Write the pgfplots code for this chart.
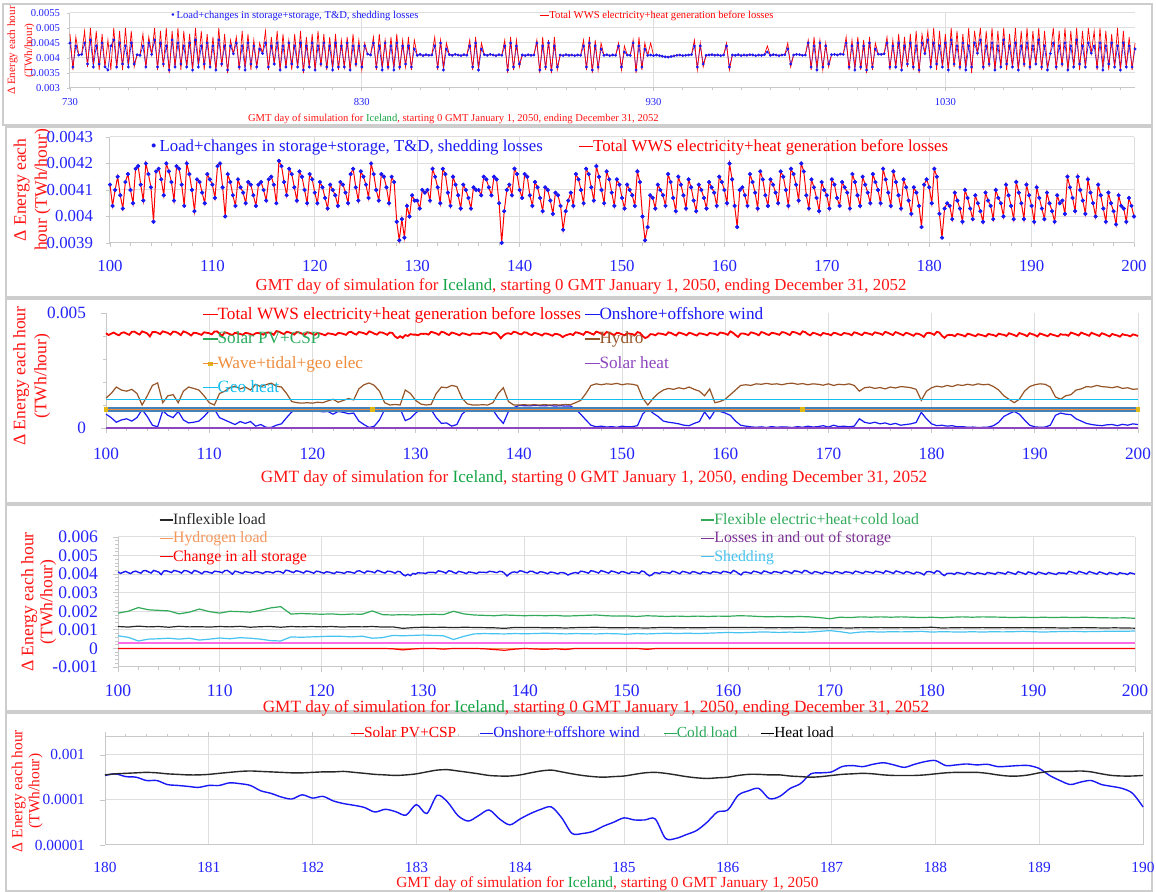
\documentclass[border=0pt]{standalone}
\usepackage{pgfplots}
\pgfplotsset{compat=1.18}
\usepackage{pgfplotstable}
\usepackage{fontspec}
\setmainfont{Liberation Serif}

\definecolor{tickblue}{RGB}{35,35,250}
\definecolor{labred}{RGB}{255,20,20}
\definecolor{icegreen}{RGB}{20,165,70}
\definecolor{lineblue}{RGB}{25,25,245}
\definecolor{hydrobrown}{RGB}{150,85,40}
\definecolor{geocyan}{RGB}{20,190,240}
\definecolor{bandblue}{RGB}{70,130,185}
\definecolor{waveorange}{RGB}{240,140,60}
\definecolor{waveyellow}{RGB}{225,185,20}
\definecolor{heatpurple}{RGB}{140,70,190}
\definecolor{pvgreen}{RGB}{40,170,90}
\definecolor{flexgreen}{RGB}{50,170,90}
\definecolor{inflexblack}{RGB}{40,40,40}
\definecolor{shedcyan}{RGB}{70,195,240}
\definecolor{losspink}{RGB}{255,105,230}
\definecolor{losspurple}{RGB}{125,50,150}
\definecolor{htwoorange}{RGB}{245,150,90}
\definecolor{gridgray}{RGB}{222,222,222}
\definecolor{axisgray}{RGB}{200,200,200}
\definecolor{framegray}{RGB}{205,205,205}

\newcommand\fA{\fontsize{5.3}{6.2}\selectfont}
\newcommand\fAy{\fontsize{5.6}{8.5}\selectfont}
\newcommand\fB{\fontsize{8.4}{10}\selectfont}
\newcommand\fBy{\fontsize{8.8}{10.5}\selectfont}
\newcommand\fC{\fontsize{8.6}{10}\selectfont}
\newcommand\fD{\fontsize{8.8}{10.5}\selectfont}
\newcommand\fDl{\fontsize{7.9}{9.5}\selectfont}
\newcommand\fDy{\fontsize{8.8}{9.5}\selectfont}
\newcommand\fE{\fontsize{7.7}{9}\selectfont}
\newcommand\fEy{\fontsize{7.7}{8.6}\selectfont}

\newcommand\gmtlabel{GMT day of simulation for \textcolor{icegreen}{Iceland}, starting 0 GMT January 1, 2050}
% legend entry: a short line key followed by the series name, all in the series colour
\newcommand\leg[2]{\textcolor{#1}{\rule[0.25em]{0.85em}{0.07em}#2}}

\pgfplotsset{
  panel/.style={
    scale only axis, anchor=south west, clip=false,
    axis lines*=left,
    axis line style={draw=axisgray, line width=0.5pt},
    tick style={draw=axisgray, line width=0.4pt},
    major tick length=2.5pt, minor tick length=1.5pt,
    tick align=outside,
    grid style={draw=gridgray, line width=0.5pt},
    tick label style={text=tickblue},
    /pgf/number format/assume math mode=true,
    /pgf/number format/1000 sep={},
    scaled y ticks=false,
    yticklabel style={/pgf/number format/fixed, /pgf/number format/precision=5},
    xlabel style={text=labred, anchor=center},
    ylabel style={text=labred, align=center, anchor=center},
    legend cell align=left,
    legend style={draw=none, fill=none, inner sep=0pt, outer sep=0pt,
      nodes={inner sep=0.5pt}},
    legend image code/.code={},
  },
}

% hourly totals, third simulated year (day, generation, load)
\pgfplotstableread{
d g l
730 0.0048 0.0045
731 0.0036 0.0037
732 0.0047 0.0044
733 0.00410 0.00410
734 0.00412 0.00412
735 0.0049 0.0045
736 0.0037 0.0038
737 0.0050 0.0046
738 0.0038 0.0037
739 0.0049 0.0044
740 0.0036 0.0038
741 0.0048 0.0045
742 0.0037 0.0037
743 0.0046 0.0036
744 0.0036 0.0044
745 0.0050 0.0046
746 0.0037 0.0037
747 0.0049 0.0045
748 0.0036 0.0038
749 0.0050 0.0044
750 0.0038 0.0037
751 0.0049 0.0045
752 0.0037 0.0038
753 0.00411 0.00411
754 0.00409 0.00409
755 0.0048 0.0044
756 0.0037 0.0037
757 0.0047 0.0045
758 0.00412 0.00412
759 0.0050 0.0046
760 0.0036 0.0037
761 0.0049 0.0045
762 0.0037 0.0038
763 0.0050 0.0044
764 0.0035 0.0036
765 0.0049 0.0046
766 0.0037 0.0037
767 0.0050 0.0045
768 0.0036 0.0038
769 0.0049 0.0044
770 0.0037 0.0037
771 0.0048 0.0045
772 0.0036 0.0036
773 0.0050 0.0046
774 0.0038 0.0037
775 0.0049 0.0044
776 0.0036 0.0038
777 0.0048 0.0045
778 0.0037 0.0037
779 0.0047 0.0044
780 0.0036 0.0036
781 0.0050 0.0046
782 0.0037 0.0038
783 0.0048 0.0044
784 0.0035 0.0036
785 0.0046 0.0044
786 0.00414 0.00414
787 0.0047 0.0045
788 0.0036 0.0037
789 0.0049 0.0044
790 0.0037 0.0036
791 0.0048 0.0045
792 0.0036 0.0038
793 0.0046 0.0044
794 0.0037 0.0037
795 0.0045 0.0043
796 0.00415 0.00415
797 0.0049 0.0045
798 0.0036 0.0037
799 0.0047 0.0044
800 0.0038 0.0038
801 0.0049 0.0045
802 0.0036 0.0036
803 0.0048 0.0044
804 0.0037 0.0037
805 0.0046 0.0045
806 0.0036 0.0038
807 0.0048 0.0044
808 0.0037 0.0037
809 0.0049 0.0045
810 0.0035 0.0036
811 0.0047 0.0044
812 0.0037 0.0037
813 0.0048 0.0045
814 0.0036 0.0036
815 0.0049 0.0044
816 0.0037 0.0038
817 0.0048 0.0045
818 0.0036 0.0037
819 0.0047 0.0044
820 0.0037 0.0036
821 0.0048 0.0045
822 0.0036 0.0037
823 0.0046 0.0044
824 0.0037 0.0037
825 0.0047 0.0045
826 0.0036 0.0036
827 0.0048 0.0044
828 0.0037 0.0038
829 0.0046 0.0044
830 0.0036 0.0037
831 0.0045 0.0044
832 0.00413 0.00413
833 0.00410 0.00410
834 0.0047 0.0045
835 0.0036 0.0037
836 0.0048 0.0044
837 0.0037 0.0036
838 0.0046 0.0045
839 0.0036 0.0037
840 0.0047 0.0044
841 0.0037 0.0036
842 0.0048 0.0045
843 0.0036 0.0037
844 0.0046 0.0044
845 0.0037 0.0038
846 0.0047 0.0044
847 0.0036 0.0037
848 0.0046 0.0043
849 0.00409 0.00409
850 0.00412 0.00412
851 0.00408 0.00408
852 0.00411 0.00411
853 0.00409 0.00409
854 0.00410 0.00410
855 0.0047 0.0044
856 0.0036 0.0037
857 0.0046 0.0045
858 0.0037 0.0036
859 0.0045 0.0043
860 0.00411 0.00411
861 0.00409 0.00409
862 0.00412 0.00412
863 0.00410 0.00410
864 0.00408 0.00408
865 0.00411 0.00411
866 0.00409 0.00409
867 0.0046 0.0044
868 0.0036 0.0037
869 0.0047 0.0045
870 0.0037 0.0036
871 0.0045 0.0043
872 0.00411 0.00411
873 0.00409 0.00409
874 0.00412 0.00412
875 0.00410 0.00410
876 0.00408 0.00408
877 0.00411 0.00411
878 0.00409 0.00409
879 0.0046 0.0044
880 0.0035 0.0036
881 0.0047 0.0045
882 0.0036 0.0037
883 0.0046 0.0044
884 0.0037 0.0038
885 0.00410 0.00410
886 0.00408 0.00408
887 0.00411 0.00411
888 0.00409 0.00409
889 0.00410 0.00410
890 0.0046 0.0045
891 0.0035 0.0036
892 0.0047 0.0044
893 0.0036 0.0037
894 0.0046 0.0045
895 0.0035 0.0036
896 0.0047 0.0044
897 0.0036 0.0037
898 0.00410 0.00410
899 0.00408 0.00408
900 0.00411 0.00411
901 0.00409 0.00409
902 0.00410 0.00410
903 0.00408 0.00408
904 0.00410 0.00410
905 0.00409 0.00409
906 0.0046 0.0044
907 0.0036 0.0037
908 0.0047 0.0045
909 0.0035 0.0036
910 0.0046 0.0044
911 0.0036 0.0037
912 0.0045 0.0043
913 0.00409 0.00409
914 0.00411 0.00411
915 0.00408 0.00408
916 0.00410 0.00410
917 0.00409 0.00409
918 0.0045 0.0044
919 0.0036 0.0037
920 0.0044 0.0042
921 0.00410 0.00410
922 0.00409 0.00409
923 0.0046 0.0045
924 0.0035 0.0036
925 0.0047 0.0044
926 0.0036 0.0037
927 0.0045 0.0043
928 0.00409 0.00409
929 0.0045 0.0041
930 0.00408 0.00408
931 0.00410 0.00410
932 0.00408 0.00408
933 0.00406 0.00406
934 0.00404 0.00404
935 0.00403 0.00403
936 0.00405 0.00405
937 0.00407 0.00407
938 0.00409 0.00409
939 0.00410 0.00410
940 0.00408 0.00408
941 0.00409 0.00409
942 0.00410 0.00410
943 0.00411 0.00411
944 0.0046 0.0044
945 0.0036 0.0037
946 0.0045 0.0044
947 0.0037 0.0038
948 0.00409 0.00409
949 0.00410 0.00410
950 0.00411 0.00411
951 0.00409 0.00409
952 0.00410 0.00410
953 0.00408 0.00408
954 0.00410 0.00410
955 0.0045 0.0044
956 0.0036 0.0037
957 0.00410 0.00410
958 0.00409 0.00409
959 0.00411 0.00411
960 0.00408 0.00408
961 0.00410 0.00410
962 0.00409 0.00409
963 0.00411 0.00411
964 0.00410 0.00410
965 0.00408 0.00408
966 0.00410 0.00410
967 0.00409 0.00409
968 0.00411 0.00411
969 0.0044 0.0042
970 0.00409 0.00409
971 0.00411 0.00411
972 0.00410 0.00410
973 0.00408 0.00408
974 0.00410 0.00410
975 0.00411 0.00411
976 0.0045 0.0043
977 0.0037 0.0038
978 0.00410 0.00410
979 0.00412 0.00412
980 0.00411 0.00411
981 0.00409 0.00409
982 0.00410 0.00410
983 0.0046 0.0045
984 0.0036 0.0037
985 0.0047 0.0044
986 0.0037 0.0036
987 0.0046 0.0045
988 0.0036 0.0037
989 0.0045 0.0044
990 0.0037 0.0038
991 0.00411 0.00411
992 0.00412 0.00412
993 0.00410 0.00410
994 0.00413 0.00413
995 0.00412 0.00412
996 0.0047 0.0045
997 0.0036 0.0037
998 0.0046 0.0044
999 0.0037 0.0036
1000 0.0047 0.0045
1001 0.0036 0.0037
1002 0.0046 0.0044
1003 0.0035 0.0036
1004 0.0047 0.0045
1005 0.0036 0.0037
1006 0.0045 0.0043
1007 0.00413 0.00413
1008 0.00412 0.00412
1009 0.00414 0.00414
1010 0.0047 0.0045
1011 0.0036 0.0037
1012 0.0046 0.0044
1013 0.0037 0.0037
1014 0.0048 0.0045
1015 0.0036 0.0036
1016 0.0047 0.0044
1017 0.0037 0.0038
1018 0.0048 0.0045
1019 0.0036 0.0037
1020 0.0049 0.0044
1021 0.0035 0.0036
1022 0.0048 0.0045
1023 0.00415 0.00415
1024 0.0049 0.0046
1025 0.0037 0.0037
1026 0.0050 0.0045
1027 0.0036 0.0038
1028 0.0049 0.0044
1029 0.0037 0.0037
1030 0.0048 0.0045
1031 0.0036 0.0036
1032 0.0050 0.0046
1033 0.0037 0.0038
1034 0.0049 0.0044
1035 0.0036 0.0037
1036 0.0048 0.0045
1037 0.0037 0.0036
1038 0.0050 0.0044
1039 0.0035 0.0037
1040 0.0049 0.0045
1041 0.00416 0.00416
1042 0.0050 0.0046
1043 0.0036 0.0037
1044 0.0049 0.0044
1045 0.0037 0.0038
1046 0.0050 0.0045
1047 0.0036 0.0036
1048 0.0049 0.0044
1049 0.0037 0.0037
1050 0.0050 0.0046
1051 0.0036 0.0038
1052 0.0048 0.0044
1053 0.0037 0.0037
1054 0.0050 0.0045
1055 0.0036 0.0036
1056 0.0049 0.0044
1057 0.0037 0.0038
1058 0.0050 0.0045
1059 0.0036 0.0037
1060 0.0049 0.0044
1061 0.0038 0.0038
1062 0.0050 0.0046
1063 0.0036 0.0037
1064 0.0049 0.0044
1065 0.0037 0.0036
1066 0.00415 0.00415
1067 0.0050 0.0045
1068 0.0036 0.0037
1069 0.0049 0.0044
1070 0.0037 0.0038
1071 0.0050 0.0045
1072 0.0036 0.0036
1073 0.0049 0.0044
1074 0.0037 0.0037
1075 0.0050 0.0046
1076 0.0036 0.0038
1077 0.0049 0.0044
1078 0.0037 0.0037
1079 0.0050 0.0045
1080 0.00416 0.00416
1081 0.0049 0.0044
1082 0.0036 0.0037
1083 0.0050 0.0045
1084 0.0037 0.0036
1085 0.0049 0.0044
1086 0.0036 0.0038
1087 0.0048 0.0045
1088 0.0037 0.0037
1089 0.0050 0.0044
1090 0.0036 0.0036
1091 0.0049 0.0045
1092 0.0037 0.0037
1093 0.0047 0.0044
1094 0.0036 0.0037
1095 0.0045 0.0043
}\tA

% total generation = load, days 100-200, every 6 h
\pgfplotstableread{
d v
100 0.00412
100.25 0.00404
100.5 0.00410
100.75 0.00415
101 0.00408
101.25 0.00403
101.5 0.00413
101.75 0.00416
102 0.00410
102.25 0.00405
102.5 0.00418
102.75 0.00419
103 0.00412
103.25 0.00406
103.5 0.00420
103.75 0.00416
104 0.00411
104.25 0.00398
104.5 0.00417
104.75 0.00418
105 0.00414
105.25 0.00408
105.5 0.00420
105.75 0.00417
106 0.00413
106.25 0.00406
106.5 0.00419
106.75 0.00418
107 0.00412
107.25 0.00404
107.5 0.00420
107.75 0.00416
108 0.00410
108.25 0.00402
108.5 0.00414
108.75 0.00413
109 0.00409
109.25 0.00405
109.5 0.00416
109.75 0.00414
110 0.00412
110.25 0.00407
110.5 0.00419
110.75 0.00420
111 0.00411
111.25 0.00400
111.5 0.00416
111.75 0.00413
112 0.00408
112.25 0.00404
112.5 0.00414
112.75 0.00411
113 0.00409
113.25 0.00405
113.5 0.00413
113.75 0.00412
114 0.00408
114.25 0.00404
114.5 0.00412
114.75 0.00413
115 0.00410
115.25 0.00406
115.5 0.00414
115.75 0.00415
116 0.00412
116.25 0.00405
116.5 0.00421
116.75 0.00419
117 0.00413
117.25 0.00408
117.5 0.00418
117.75 0.00416
118 0.00411
118.25 0.00406
118.5 0.00417
118.75 0.00415
119 0.00410
119.25 0.00405
119.5 0.00416
119.75 0.00414
120 0.00409
120.25 0.00405
120.5 0.00413
120.75 0.00411
121 0.00407
121.25 0.00403
121.5 0.00412
121.75 0.00410
122 0.00408
122.25 0.00404
122.5 0.00413
122.75 0.00412
123 0.00409
123.25 0.00405
123.5 0.00416
123.75 0.00418
124 0.00411
124.25 0.00406
124.5 0.00417
124.75 0.00415
125 0.00412
125.25 0.00407
125.5 0.00420
125.75 0.00416
126 0.00410
126.25 0.00406
126.5 0.00416
126.75 0.00415
127 0.00411
127.25 0.00405
127.5 0.00415
127.75 0.00413
128 0.00398
128.25 0.00391
128.5 0.00399
128.75 0.00392
129 0.00404
129.25 0.00400
129.5 0.00408
129.75 0.00406
130 0.00406
130.25 0.00403
130.5 0.00410
130.75 0.00409
131 0.00410
131.25 0.00406
131.5 0.00418
131.75 0.00415
132 0.00411
132.25 0.00405
132.5 0.00418
132.75 0.00416
133 0.00409
133.25 0.00404
133.5 0.00415
133.75 0.00412
134 0.00408
134.25 0.00403
134.5 0.00412
134.75 0.00410
135 0.00407
135.25 0.00403
135.5 0.00411
135.75 0.00410
136 0.00410
136.25 0.00408
136.5 0.00415
136.75 0.00414
137 0.00411
137.25 0.00408
137.5 0.00415
137.75 0.00414
138 0.00405
138.25 0.00390
138.5 0.00402
138.75 0.00410
139 0.00412
139.25 0.00408
139.5 0.00418
139.75 0.00416
140 0.00410
140.25 0.00407
140.5 0.00416
140.75 0.00415
141 0.00408
141.25 0.00404
141.5 0.00413
141.75 0.00411
142 0.00407
142.25 0.00402
142.5 0.00411
142.75 0.00410
143 0.00406
143.25 0.00401
143.5 0.00409
143.75 0.00408
144 0.00404
144.25 0.00395
144.5 0.00402
144.75 0.00406
145 0.00409
145.25 0.00404
145.5 0.00416
145.75 0.00414
146 0.00410
146.25 0.00405
146.5 0.00418
146.75 0.00416
147 0.00411
147.25 0.00406
147.5 0.00419
147.75 0.00415
148 0.00410
148.25 0.00405
148.5 0.00417
148.75 0.00414
149 0.00409
149.25 0.00404
149.5 0.00414
149.75 0.00412
150 0.00407
150.25 0.00403
150.5 0.00412
150.75 0.00410
151 0.00408
151.25 0.00404
151.5 0.00417
151.75 0.00413
152 0.00400
152.25 0.00391
152.5 0.00396
152.75 0.00408
153 0.00407
153.25 0.00403
153.5 0.00412
153.75 0.00410
154 0.00408
154.25 0.00404
154.5 0.00416
154.75 0.00413
155 0.00407
155.25 0.00402
155.5 0.00415
155.75 0.00412
156 0.00408
156.25 0.00403
156.5 0.00414
156.75 0.00411
157 0.00406
157.25 0.00402
157.5 0.00412
157.75 0.00410
158 0.00407
158.25 0.00403
158.5 0.00413
158.75 0.00411
159 0.00409
159.25 0.00404
159.5 0.00415
159.75 0.00413
160 0.00410
160.25 0.00405
160.5 0.00420
160.75 0.00414
161 0.00404
161.25 0.00396
161.5 0.00410
161.75 0.00411
162 0.00408
162.25 0.00404
162.5 0.00416
162.75 0.00413
163 0.00409
163.25 0.00403
163.5 0.00417
163.75 0.00414
164 0.00408
164.25 0.00404
164.5 0.00414
164.75 0.00412
165 0.00409
165.25 0.00405
165.5 0.00417
165.75 0.00415
166 0.00410
166.25 0.00404
166.5 0.00418
166.75 0.00416
167 0.00412
167.25 0.00406
167.5 0.00420
167.75 0.00417
168 0.00408
168.25 0.00403
168.5 0.00414
168.75 0.00411
169 0.00407
169.25 0.00402
169.5 0.00413
169.75 0.00410
170 0.00408
170.25 0.00403
170.5 0.00414
170.75 0.00412
171 0.00407
171.25 0.00404
171.5 0.00413
171.75 0.00411
172 0.00409
172.25 0.00403
172.5 0.00416
172.75 0.00413
173 0.00408
173.25 0.00404
173.5 0.00415
173.75 0.00412
174 0.00409
174.25 0.00405
174.5 0.00416
174.75 0.00413
175 0.00410
175.25 0.00405
175.5 0.00418
175.75 0.00414
176 0.00409
176.25 0.00404
176.5 0.00417
176.75 0.00413
177 0.00408
177.25 0.00403
177.5 0.00414
177.75 0.00411
178 0.00406
178.25 0.00401
178.5 0.00411
178.75 0.00409
179 0.00404
179.25 0.00396
179.5 0.00412
179.75 0.00414
180 0.00411
180.25 0.00405
180.5 0.00418
180.75 0.00415
181 0.00401
181.25 0.00392
181.5 0.00403
181.75 0.00405
182 0.00404
182.25 0.00399
182.5 0.00409
182.75 0.00406
183 0.00403
183.25 0.00398
183.5 0.00410
183.75 0.00407
184 0.00403
184.25 0.00399
184.5 0.00408
184.75 0.00405
185 0.00402
185.25 0.00398
185.5 0.00409
185.75 0.00406
186 0.00404
186.25 0.00399
186.5 0.00410
186.75 0.00407
187 0.00405
187.25 0.00400
187.5 0.00412
187.75 0.00408
188 0.00404
188.25 0.00399
188.5 0.00413
188.75 0.00409
189 0.00405
189.25 0.00399
189.5 0.00412
189.75 0.00408
190 0.00404
190.25 0.00398
190.5 0.00411
190.75 0.00407
191 0.00403
191.25 0.00399
191.5 0.00409
191.75 0.00405
192 0.00402
192.25 0.00398
192.5 0.00408
192.75 0.00405
193 0.00406
193.25 0.00401
193.5 0.00415
193.75 0.00411
194 0.00407
194.25 0.00402
194.5 0.00415
194.75 0.00410
195 0.00406
195.25 0.00401
195.5 0.00414
195.75 0.00409
196 0.00405
196.25 0.00400
196.5 0.00412
196.75 0.00408
197 0.00403
197.25 0.00398
197.5 0.00409
197.75 0.00405
198 0.00402
198.25 0.00397
198.5 0.00408
198.75 0.00404
199 0.00403
199.25 0.00398
199.5 0.00407
199.75 0.00404
200 0.00400
}\tB

% hydro and wind output, every 12 h
\pgfplotstableread{
d h w
100 0.00130 0.00060
100.5 0.00150 0.00045
101 0.00178 0.00025
101.5 0.00165 0.00035
102 0.00160 0.00040
102.5 0.00168 0.00030
103 0.00150 0.00045
103.5 0.00100 0.00080
104 0.00140 0.00050
104.5 0.00185 0.00012
105 0.00196 0.00005
105.5 0.00110 0.00075
106 0.00140 0.00055
106.5 0.00145 0.00045
107 0.00110 0.00072
107.5 0.00160 0.00035
108 0.00178 0.00022
108.5 0.00172 0.00025
109 0.00165 0.00030
109.5 0.00140 0.00050
110 0.00110 0.00075
110.5 0.00100 0.00082
111 0.00150 0.00045
111.5 0.00160 0.00035
112 0.00175 0.00025
112.5 0.00182 0.00015
113 0.00170 0.00028
113.5 0.00178 0.00020
114 0.00165 0.00028
114.5 0.00190 0.00008
115 0.00180 0.00015
115.5 0.00188 0.00003
116 0.00195 0.00002
116.5 0.00182 0.00012
117 0.00178 0.00018
117.5 0.00150 0.00045
118 0.00115 0.00070
118.5 0.00110 0.00078
119 0.00108 0.00078
119.5 0.00110 0.00075
120 0.00108 0.00072
120.5 0.00112 0.00075
121 0.00110 0.00070
121.5 0.00118 0.00072
122 0.00125 0.00060
122.5 0.00112 0.00072
123 0.00120 0.00068
123.5 0.00128 0.00062
124 0.00122 0.00065
124.5 0.00170 0.00030
125 0.00188 0.00015
125.5 0.00196 0.00002
126 0.00185 0.00008
126.5 0.00160 0.00035
127 0.00110 0.00080
127.5 0.00100 0.00085
128 0.00102 0.00082
128.5 0.00100 0.00084
129 0.00165 0.00032
129.5 0.00150 0.00042
130 0.00120 0.00065
130.5 0.00104 0.00080
131 0.00100 0.00082
131.5 0.00102 0.00080
132 0.00150 0.00045
132.5 0.00178 0.00020
133 0.00175 0.00022
133.5 0.00185 0.00008
134 0.00180 0.00015
134.5 0.00130 0.00060
135 0.00105 0.00080
135.5 0.00100 0.00085
136 0.00100 0.00088
136.5 0.00101 0.00086
137 0.00100 0.00085
137.5 0.00110 0.00078
138 0.00150 0.00045
138.5 0.00175 0.00020
139 0.00115 0.00072
139.5 0.00100 0.00088
140 0.00100 0.00098
140.5 0.00101 0.00097
141 0.00100 0.00096
141.5 0.00101 0.00098
142 0.00100 0.00097
142.5 0.00101 0.00096
143 0.00100 0.00098
143.5 0.00101 0.00095
144 0.00100 0.00097
144.5 0.00102 0.00095
145 0.00101 0.00096
145.5 0.00110 0.00082
146 0.00120 0.00060
146.5 0.00150 0.00035
147 0.00185 0.00012
147.5 0.00192 0.00005
148 0.00188 0.00008
148.5 0.00192 0.00004
149 0.00190 0.00006
149.5 0.00194 0.00003
150 0.00188 0.00008
150.5 0.00192 0.00005
151 0.00190 0.00006
151.5 0.00185 0.00010
152 0.00130 0.00060
152.5 0.00100 0.00082
153 0.00128 0.00065
153.5 0.00150 0.00050
154 0.00165 0.00030
154.5 0.00172 0.00025
155 0.00168 0.00022
155.5 0.00175 0.00018
156 0.00170 0.00012
156.5 0.00178 0.00010
157 0.00168 0.00020
157.5 0.00160 0.00028
158 0.00140 0.00070
158.5 0.00170 0.00040
159 0.00110 0.00075
159.5 0.00115 0.00072
160 0.00125 0.00065
160.5 0.00145 0.00055
161 0.00165 0.00030
161.5 0.00185 0.00012
162 0.00188 0.00008
162.5 0.00185 0.00005
163 0.00192 0.00003
163.5 0.00190 0.00005
164 0.00194 0.00002
164.5 0.00190 0.00006
165 0.00192 0.00003
165.5 0.00188 0.00005
166 0.00193 0.00004
166.5 0.00195 0.00002
167 0.00190 0.00006
167.5 0.00193 0.00003
168 0.00188 0.00008
168.5 0.00192 0.00004
169 0.00190 0.00006
169.5 0.00186 0.00010
170 0.00192 0.00004
170.5 0.00185 0.00012
171 0.00190 0.00006
171.5 0.00188 0.00008
172 0.00192 0.00005
172.5 0.00185 0.00008
173 0.00160 0.00040
173.5 0.00175 0.00025
174 0.00178 0.00020
174.5 0.00172 0.00025
175 0.00176 0.00018
175.5 0.00170 0.00022
176 0.00178 0.00015
176.5 0.00174 0.00020
177 0.00180 0.00012
177.5 0.00178 0.00015
178 0.00175 0.00018
178.5 0.00168 0.00024
179 0.00120 0.00068
179.5 0.00160 0.00040
180 0.00175 0.00018
180.5 0.00182 0.00010
181 0.00178 0.00012
181.5 0.00185 0.00008
182 0.00180 0.00010
182.5 0.00188 0.00005
183 0.00185 0.00006
183.5 0.00190 0.00003
184 0.00186 0.00004
184.5 0.00192 0.00002
185 0.00188 0.00003
185.5 0.00190 0.00004
186 0.00180 0.00010
186.5 0.00165 0.00025
187 0.00140 0.00050
187.5 0.00125 0.00062
188 0.00110 0.00072
188.5 0.00125 0.00060
189 0.00160 0.00035
189.5 0.00180 0.00012
190 0.00188 0.00005
190.5 0.00192 0.00003
191 0.00190 0.00004
191.5 0.00178 0.00012
192 0.00135 0.00055
192.5 0.00125 0.00065
193 0.00140 0.00060
193.5 0.00145 0.00058
194 0.00165 0.00040
194.5 0.00170 0.00030
195 0.00180 0.00020
195.5 0.00178 0.00015
196 0.00185 0.00012
196.5 0.00180 0.00010
197 0.00178 0.00014
197.5 0.00175 0.00015
198 0.00180 0.00010
198.5 0.00172 0.00016
199 0.00175 0.00012
199.5 0.00168 0.00018
200 0.00170 0.00015
}\tC

% daily loads: flexible, inflexible, shedding, change in storage
\pgfplotstableread{
d f i s c
100 0.00190 0.00118 0.00068 0
101 0.00200 0.00115 0.00060 0
102 0.00220 0.00120 0.00040 0
103 0.00208 0.00116 0.00050 0
104 0.00205 0.00118 0.00052 0
105 0.00202 0.00114 0.00055 0
106 0.00186 0.00119 0.00050 0
107 0.00195 0.00116 0.00055 0
108 0.00212 0.00117 0.00045 0
109 0.00198 0.00115 0.00050 0
110 0.00190 0.00118 0.00056 0
111 0.00200 0.00116 0.00052 0
112 0.00198 0.00119 0.00058 0
113 0.00195 0.00114 0.00055 0
114 0.00205 0.00117 0.00050 0
115 0.00218 0.00118 0.00042 0
116 0.00225 0.00114 0.00040 0
117 0.00185 0.00118 0.00062 0
118 0.00188 0.00116 0.00060 0
119 0.00186 0.00118 0.00062 0
120 0.00184 0.00116 0.00064 0
121 0.00186 0.00118 0.00066 0
122 0.00182 0.00115 0.00065 0
123 0.00185 0.00117 0.00062 0
124 0.00184 0.00116 0.00066 0
125 0.00202 0.00118 0.00055 0
126 0.00182 0.00115 0.00058 0
127 0.00180 0.00116 0.00070 -0.00002
128 0.00182 0.00108 0.00068 -0.00008
129 0.00180 0.00112 0.00070 -0.00003
130 0.00182 0.00114 0.00072 0
131 0.00184 0.00113 0.00070 0
132 0.00182 0.00114 0.00068 -0.00004
133 0.00200 0.00112 0.00048 0
134 0.00186 0.00114 0.00065 0
135 0.00180 0.00113 0.00078 0
136 0.00178 0.00112 0.00080 -0.00002
137 0.00176 0.00111 0.00079 -0.00006
138 0.00180 0.00108 0.00078 -0.00010
139 0.00178 0.00113 0.00080 -0.00004
140 0.00176 0.00112 0.00079 0
141 0.00178 0.00113 0.00080 -0.00003
142 0.00176 0.00111 0.00082 -0.00005
143 0.00178 0.00112 0.00080 -0.00002
144 0.00174 0.00110 0.00078 -0.00006
145 0.00176 0.00112 0.00080 0
146 0.00178 0.00113 0.00079 0
147 0.00180 0.00114 0.00078 0
148 0.00176 0.00112 0.00080 0
149 0.00174 0.00111 0.00079 0
150 0.00175 0.00112 0.00076 0
151 0.00172 0.00111 0.00080 0
152 0.00176 0.00110 0.00078 -0.00005
153 0.00174 0.00112 0.00080 0
154 0.00172 0.00113 0.00082 0
155 0.00174 0.00111 0.00080 0
156 0.00172 0.00112 0.00082 0
157 0.00174 0.00111 0.00080 0
158 0.00172 0.00112 0.00082 0
159 0.00174 0.00113 0.00084 0
160 0.00173 0.00112 0.00086 0
161 0.00176 0.00113 0.00084 0
162 0.00175 0.00112 0.00086 0
163 0.00172 0.00113 0.00088 0
164 0.00170 0.00111 0.00088 0
165 0.00172 0.00112 0.00086 0
166 0.00170 0.00111 0.00088 0
167 0.00172 0.00113 0.00087 0
168 0.00170 0.00112 0.00088 0
169 0.00166 0.00111 0.00092 0
170 0.00160 0.00112 0.00096 0
171 0.00168 0.00111 0.00090 0
172 0.00166 0.00110 0.00082 0
173 0.00170 0.00112 0.00088 0
174 0.00168 0.00111 0.00090 0
175 0.00170 0.00112 0.00088 0
176 0.00168 0.00111 0.00090 0
177 0.00170 0.00112 0.00089 0
178 0.00168 0.00111 0.00090 0
179 0.00166 0.00112 0.00092 0
180 0.00168 0.00114 0.00088 0
181 0.00165 0.00110 0.00090 0
182 0.00168 0.00111 0.00089 0
183 0.00170 0.00112 0.00088 0
184 0.00168 0.00111 0.00090 0
185 0.00170 0.00112 0.00088 0
186 0.00169 0.00111 0.00090 0
187 0.00168 0.00112 0.00089 0
188 0.00166 0.00111 0.00090 0
189 0.00168 0.00112 0.00092 0
190 0.00166 0.00111 0.00090 0
191 0.00168 0.00112 0.00088 0
192 0.00166 0.00111 0.00090 0
193 0.00168 0.00110 0.00091 0
194 0.00166 0.00111 0.00092 0
195 0.00168 0.00112 0.00090 0
196 0.00166 0.00111 0.00091 0
197 0.00165 0.00110 0.00092 0
198 0.00164 0.00111 0.00093 0
199 0.00165 0.00110 0.00092 0
200 0.00162 0.00109 0.00094 0
}\tD

% wind and heat load, days 180-190
\pgfplotstableread{
d w h
180.0 0.00035 0.00036
180.1 0.00038 0.00038
180.2 0.00033 0.00039
180.3 0.00032 0.00040
180.4 0.00027 0.00041
180.5 0.00027 0.00040
180.6 0.00022 0.00038
180.7 0.00021 0.00037
180.8 0.00020 0.00036
180.9 0.00019 0.00036
181.0 0.00021 0.00037
181.1 0.00021 0.00039
181.2 0.00024 0.00041
181.3 0.00023 0.00043
181.4 0.00021 0.00044
181.5 0.00016 0.00043
181.6 0.00014 0.00042
181.7 0.000116 0.00041
181.8 0.000105 0.00040
181.9 0.00013 0.00040
182.0 0.00011 0.00041
182.1 0.00012 0.00042
182.2 0.000095 0.00042
182.3 0.000083 0.00043
182.4 0.000076 0.00041
182.5 0.000068 0.00039
182.6 0.000054 0.00037
182.7 0.000062 0.00036
182.8 0.000055 0.00035
182.9 0.000046 0.00036
183.0 0.000079 0.00038
183.1 0.000050 0.00042
183.2 0.000127 0.00046
183.3 0.000090 0.00047
183.4 0.000045 0.00044
183.5 0.000034 0.00041
183.6 0.000045 0.00038
183.7 0.000060 0.00035
183.8 0.000038 0.00034
183.9 0.000028 0.00034
184.0 0.000038 0.00036
184.1 0.000050 0.00040
184.2 0.000062 0.00044
184.3 0.000070 0.00046
184.4 0.000040 0.00042
184.5 0.000018 0.00038
184.6 0.000018 0.00035
184.7 0.000020 0.00033
184.8 0.000026 0.00032
184.9 0.000032 0.00033
185.0 0.000040 0.00034
185.1 0.000036 0.00037
185.2 0.000036 0.00040
185.3 0.000038 0.00041
185.4 0.000014 0.00039
185.5 0.000014 0.00036
185.6 0.000017 0.00033
185.7 0.000021 0.00031
185.8 0.000032 0.00030
185.9 0.000054 0.00031
186.0 0.000060 0.00032
186.1 0.000127 0.00035
186.2 0.00016 0.00037
186.3 0.00018 0.00037
186.4 0.000107 0.00036
186.5 0.00012 0.00036
186.6 0.00018 0.00034
186.7 0.00023 0.00033
186.8 0.00038 0.00032
186.9 0.00040 0.00033
187.0 0.00042 0.00035
187.1 0.00055 0.00037
187.2 0.00058 0.00038
187.3 0.00055 0.00039
187.4 0.00062 0.00038
187.5 0.00067 0.00036
187.6 0.00060 0.00035
187.7 0.00053 0.00035
187.8 0.00062 0.00035
187.9 0.00071 0.00036
188.0 0.00075 0.00038
188.1 0.00058 0.00040
188.2 0.00060 0.00041
188.3 0.00063 0.00041
188.4 0.00060 0.00041
188.5 0.00062 0.00039
188.6 0.00055 0.00036
188.7 0.00056 0.00034
188.8 0.00058 0.00034
188.9 0.00058 0.00036
189.0 0.00050 0.00040
189.1 0.00035 0.00043
189.2 0.00027 0.00043
189.3 0.00022 0.00043
189.4 0.00025 0.00044
189.5 0.00027 0.00042
189.6 0.00022 0.00038
189.7 0.00020 0.00035
189.8 0.00018 0.00034
189.9 0.00014 0.00034
190.0 0.00007 0.00035
}\tE

\begin{document}
\begin{tikzpicture}
\fill[white] (0,0) rectangle (578pt,446pt);
\begin{scope}[x=0.5pt, y=-0.5pt, yshift=446pt]
  \draw[framegray, line width=0.6pt] (3,4) rectangle (1152,125);
  \draw[framegray, line width=0.6pt] (6,127) rectangle (1152,297);
  \draw[framegray, line width=0.6pt] (6,299) rectangle (1152,503);
  \draw[framegray, line width=0.6pt] (6,505) rectangle (1152,711);
  \draw[framegray, line width=0.6pt] (6,713) rectangle (1152,891);
\end{scope}

% ---------- panel 1: whole third year ----------
\begin{axis}[panel, at={(35pt,402pt)}, width=532.5pt, height=37.5pt,
  xmin=730, xmax=1095, ymin=0.003, ymax=0.0055,
  xtick={730,830,930,1030}, minor xtick={740,750,...,1090},
  ytick={0.003,0.0035,0.004,0.0045,0.005,0.0055},
  grid=major, major tick length=1.5pt, minor tick length=1.2pt,
  tick label style={font=\fA},
  xlabel={\gmtlabel, ending December 31, 2052},
  xlabel style={font=\fA, at={(axis description cs:0.36,0)}, yshift=-15.5pt},
  ylabel={Δ Energy each hour\\(TWh/hour)},
  ylabel style={font=\fAy, at={(axis description cs:-0.046,0.5)}},
  legend columns=2,
  legend style={font=\fA, at={(axis description cs:0.094,0.96)}, anchor=west,
    /tikz/every even column/.append style={column sep=60pt}},
]
\addplot[lineblue, line width=0.3pt, mark=*, mark size=0.55pt] table[x=d, y=l]{\tA};
\addlegendentry{\textcolor{lineblue}{•\,Load+changes in storage+storage, T\&D, shedding losses}}
\addplot[red, line width=0.35pt] table[x=d, y=g]{\tA};
\addlegendentry{\leg{red}{Total WWS electricity+heat generation before losses}}
\end{axis}

% ---------- panel 2: days 100-200, load vs generation ----------
\begin{axis}[panel, at={(55pt,324.5pt)}, width=512pt, height=53pt,
  xmin=100, xmax=200, ymin=0.0039, ymax=0.0043,
  xtick={100,110,...,200}, minor x tick num=4,
  ytick={0.0039,0.004,0.0041,0.0042,0.0043},
  grid=major, major tick length=2pt,
  tick label style={font=\fB},
  xticklabel style={yshift=-3pt}, yticklabel style={xshift=-3pt},
  xlabel={\gmtlabel, ending December 31, 2052},
  xlabel style={font=\fB, at={(axis description cs:0.46,0)}, yshift=-21.5pt},
  ylabel={Δ Energy each\\hour (TWh/hour)},
  ylabel style={font=\fBy, at={(axis description cs:-0.076,0.5)}},
  legend columns=2,
  legend style={font=\fB, at={(axis description cs:0.039,0.906)}, anchor=west,
    /tikz/every even column/.append style={column sep=17pt}},
]
\addplot[only marks, mark=*, mark size=0.75pt, lineblue] table[x=d, y=v]{\tB};
\addlegendentry{\textcolor{lineblue}{•\,Load+changes in storage+storage, T\&D, shedding losses}}
\addplot[red, line width=0.5pt] table[x=d, y=v]{\tB};
\addlegendentry{\leg{red}{Total WWS electricity+heat generation before losses}}
\addplot[only marks, mark=*, mark size=0.75pt, lineblue, forget plot] table[x=d, y=v]{\tB};
\end{axis}

% ---------- panel 3: generation by source ----------
\begin{axis}[panel, at={(53pt,232pt)}, width=516pt, height=57.5pt,
  xmin=100, xmax=200, ymin=0, ymax=0.005,
  xtick={100,110,...,200}, minor x tick num=4,
  ytick={0,0.005}, minor ytick={0.001,0.002,0.003,0.004},
  xmajorgrids,
  tick label style={font=\fC},
  xticklabel style={yshift=-4pt}, yticklabel style={xshift=-4pt},
  xlabel={\gmtlabel, ending December 31, 2052},
  xlabel style={font=\fC, at={(axis description cs:0.473,0)}, yshift=-25pt},
  ylabel={Δ Energy each hour\\(TWh/hour)},
  ylabel style={font=\fBy, at={(axis description cs:-0.072,0.45)}},
  legend columns=2,
  legend style={font=\fC, at={(axis description cs:0.093,1.06)}, anchor=north west,
    row sep=3pt,
    nodes={inner sep=0.5pt, text height=6.2pt, text depth=2pt},
    /tikz/every even column/.append style={column sep=1pt}},
]
\addplot[red, line width=0.9pt] table[x=d, y=v]{\tB};
\addlegendentry{\leg{red}{Total WWS electricity+heat generation before losses}}
\addplot[lineblue, line width=0.6pt] table[x=d, y=w]{\tC};
\addlegendentry{\leg{lineblue}{Onshore+offshore wind}}
\addplot[pvgreen, line width=0.6pt] coordinates {(100,0) (200,0)};
\addlegendentry{\leg{pvgreen}{Solar PV+CSP}}
\addplot[hydrobrown, line width=0.6pt] table[x=d, y=h]{\tC};
\addlegendentry{\leg{hydrobrown}{Hydro}}
\addplot[bandblue, line width=2.8pt, forget plot]
  coordinates {(100,0.0008) (125.8,0.0008) (167.5,0.0008) (200,0.0008)};
\addplot[waveorange, line width=0.5pt, mark=square*, mark size=0.9pt,
  mark options={fill=waveyellow, draw=waveyellow}]
  coordinates {(100,0.0008) (125.8,0.0008) (167.5,0.0008) (200,0.0008)};
\addlegendentry{\rlap{\hspace{2.7pt}\textcolor{waveyellow}{\rule[1.2pt]{2.1pt}{2.1pt}}}\leg{waveorange}{Wave+tidal+geo elec}}
\addplot[heatpurple, line width=0.6pt] coordinates {(100,0) (200,0)};
\addlegendentry{\leg{heatpurple}{Solar heat}}
\addplot[geocyan, line width=0.7pt] coordinates {(100,0.00125) (200,0.00125)};
\addlegendentry{\leg{geocyan}{Geo heat}}
\end{axis}

% ---------- panel 4: loads and storage ----------
\begin{axis}[panel, at={(59pt,112.5pt)}, width=508.5pt, height=65pt,
  xmin=100, xmax=200, ymin=-0.001, ymax=0.006,
  xtick={100,110,...,200}, minor x tick num=4,
  ytick={-0.001,0,0.001,0.002,0.003,0.004,0.005,0.006}, minor y tick num=4,
  grid=major,
  tick label style={font=\fD},
  xticklabel style={yshift=-3pt}, yticklabel style={xshift=-4pt},
  xlabel={\gmtlabel, ending December 31, 2052},
  xlabel style={font=\fC, at={(axis description cs:0.47,0)}, yshift=-20.5pt},
  ylabel={Δ Energy each hour\\(TWh/hour)},
  ylabel style={font=\fDy, at={(axis description cs:-0.078,0.5)}},
  legend columns=2,
  legend style={font=\fDl, at={(axis description cs:0.040,1.19)}, anchor=north west,
    row sep=0.8pt,
    nodes={inner sep=0.5pt, text height=5.6pt, text depth=1.8pt},
    /tikz/every even column/.append style={column sep=196pt}},
]
\addplot[lineblue, line width=0.7pt, forget plot] table[x=d, y=v]{\tB};
\addplot[inflexblack, line width=0.6pt] table[x=d, y=i]{\tD};
\addlegendentry{\leg{inflexblack}{Inflexible load}}
\addplot[flexgreen, line width=0.6pt] table[x=d, y=f]{\tD};
\addlegendentry{\leg{flexgreen}{Flexible electric+heat+cold load}}
\addplot[htwoorange, line width=0.6pt] coordinates {(100,0) (200,0)};
\addlegendentry{\leg{htwoorange}{Hydrogen load}}
\addplot[losspink, line width=0.7pt] coordinates {(100,0.0003) (200,0.0003)};
\addlegendentry{\leg{losspurple}{Losses in and out of storage}}
\addplot[red, line width=0.6pt] table[x=d, y=c]{\tD};
\addlegendentry{\leg{red}{Change in all storage}}
\addplot[shedcyan, line width=0.6pt] table[x=d, y=s]{\tD};
\addlegendentry{\leg{shedcyan}{Shedding}}
\end{axis}

% ---------- panel 5: ten days on a log scale ----------
\begin{axis}[panel, axis lines*=box, at={(52.5pt,23.5pt)}, width=519pt, height=54pt,
  ymode=log, xmin=180, xmax=190, ymin=0.00001, ymax=0.0025,
  xtick={180,181,...,190}, minor x tick num=4, xtick pos=right, xticklabel pos=left,
  ytick={0.00001,0.0001,0.001}, yticklabels={0.00001,0.0001,0.001},
  yminorticks=false, ytick pos=left,
  grid=major,
  tick label style={font=\fE},
  xticklabel style={yshift=-2.5pt}, yticklabel style={xshift=-4pt},
  xlabel={\gmtlabel},
  xlabel style={font=\fE, inner sep=0pt, at={(axis description cs:0.484,0)}, yshift=-19.5pt},
  ylabel={Δ Energy each hour\\(TWh/hour)},
  ylabel style={font=\fEy, at={(axis description cs:-0.075,0.5)}},
  legend columns=4,
  legend style={font=\fE, at={(axis description cs:0.236,1.03)}, anchor=west,
    /tikz/every even column/.append style={column sep=11pt}},
]
\addlegendimage{red}
\addlegendentry{\leg{red}{Solar PV+CSP}}
\addplot[lineblue, line width=0.7pt, smooth] table[x=d, y=w]{\tE};
\addlegendentry{\leg{lineblue}{Onshore+offshore wind}}
\addlegendimage{pvgreen}
\addlegendentry{\leg{pvgreen}{Cold load}}
\addplot[inflexblack, line width=0.7pt, smooth] table[x=d, y=h]{\tE};
\addlegendentry{\leg{black}{Heat load}}
\end{axis}

% the page is exactly the five framed panels
\pgfresetboundingbox
\useasboundingbox (0,0) rectangle (578pt,446pt);
\end{tikzpicture}
\end{document}
